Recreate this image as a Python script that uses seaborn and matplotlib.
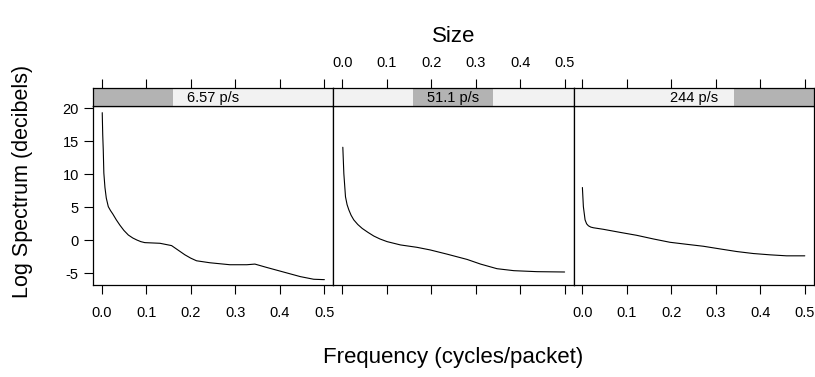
import numpy as np
import pandas as pd
import matplotlib
matplotlib.use("Agg")
import matplotlib.pyplot as plt
from matplotlib.patches import Rectangle
import seaborn as sns

# ---- data ----
panel_labels = ["6.57 p/s", "51.1 p/s", "244 p/s"]

freq1 = [0.0014, 0.0025, 0.0037, 0.005, 0.0075, 0.0105, 0.015, 0.02, 0.025, 0.033, 0.041,
         0.05, 0.06, 0.07, 0.079, 0.088, 0.097,
         0.131, 0.157, 0.172, 0.187, 0.2, 0.213, 0.243, 0.288, 0.326, 0.344, 0.37,
         0.408, 0.446, 0.476, 0.5]
spec1 = [19.34, 16.0, 13.7, 10.2, 8.0, 6.4, 5.1, 4.5, 4.0, 3.1, 2.3,
         1.5, 0.8, 0.35, 0.05, -0.2, -0.35,
         -0.45, -0.8, -1.5, -2.2, -2.7, -3.1, -3.4, -3.7, -3.7, -3.6, -4.1,
         -4.8, -5.5, -5.9, -5.96]

freq2 = [0.0014, 0.0037, 0.0074, 0.011, 0.015, 0.02, 0.026, 0.035, 0.045, 0.058, 0.071,
         0.085, 0.101, 0.131, 0.168,
         0.198, 0.236, 0.281, 0.311, 0.348, 0.386, 0.438, 0.5]
spec2 = [14.1, 10.1, 6.6, 5.4, 4.6, 3.8, 3.1, 2.4, 1.8, 1.2, 0.65,
         0.2, -0.2, -0.7, -1.06,
         -1.46, -2.1, -2.9, -3.6, -4.3, -4.6, -4.75, -4.8]

freq3 = [0.0, 0.0022, 0.006, 0.0095, 0.0135, 0.019, 0.025, 0.047, 0.085, 0.122, 0.16, 0.197,
         0.234, 0.272, 0.309, 0.347, 0.384, 0.422, 0.459, 0.5]
spec3 = [8.0, 5.1, 3.1, 2.5, 2.2, 2.0, 1.9, 1.67, 1.2, 0.76, 0.2, -0.3,
         -0.6, -0.9, -1.3, -1.7, -2.0, -2.2, -2.35, -2.35]

x_ticks = [0.0, 0.1, 0.2, 0.3, 0.4, 0.5]
x_ticklabels = ["0.0", "0.1", "0.2", "0.3", "0.4", "0.5"]
y_ticks = [-5, 0, 5, 10, 15, 20]
y_ticklabels = ["-5", "0", "5", "10", "15", "20"]

df = pd.concat([
    pd.DataFrame({"freq": freq1, "spec": spec1, "panel": panel_labels[0]}),
    pd.DataFrame({"freq": freq2, "spec": spec2, "panel": panel_labels[1]}),
    pd.DataFrame({"freq": freq3, "spec": spec3, "panel": panel_labels[2]}),
])

# ---- style ----
sns.set_style("white")
plt.rcParams["font.family"] = ["Liberation Sans", "DejaVu Sans"]
plt.rcParams["text.color"] = "black"
plt.rcParams["xtick.color"] = "black"
plt.rcParams["ytick.color"] = "black"
plt.rcParams["xtick.labelcolor"] = "black"
plt.rcParams["ytick.labelcolor"] = "black"

W, H = 815, 377
fig = plt.figure(figsize=(W / 100, H / 100), dpi=100)

panel_x = [(92.7, 333.3), (333.3, 573.5), (573.5, 813.7)]
panel_top, panel_bot = 106.0, 285.0
strip_top = 88.3

xlim = (-0.02, 0.52)
ylim = (-6.77, 20.35)
tick_len = 6.5
fs_tick = 10.5
fs_lab = 16

def fx(px):
    return px / W

def fy(py):
    return 1 - py / H

for i, (x0, x1) in enumerate(panel_x):
    ax = fig.add_axes([fx(x0), fy(panel_bot), fx(x1) - fx(x0), fy(panel_top) - fy(panel_bot)])
    sub = df[df["panel"] == panel_labels[i]]
    sns.lineplot(data=sub, x="freq", y="spec", ax=ax, color="black", lw=0.8,
                 estimator=None, sort=False, legend=False)
    ax.set_xlim(*xlim)
    ax.set_ylim(*ylim)
    ax.set_xlabel("")
    ax.set_ylabel("")
    for s in ax.spines.values():
        s.set_color("black")
        s.set_linewidth(0.9)
    ax.set_xticks(x_ticks)
    if i in (0, 2):
        ax.set_xticklabels(x_ticklabels)
    else:
        ax.set_xticklabels([])
    ax.tick_params(axis="x", direction="out", length=tick_len, width=0.8,
                   color="black", labelcolor="black", labelsize=fs_tick, pad=8.5, bottom=True)
    if i == 0:
        ax.set_yticks(y_ticks)
        ax.set_yticklabels(y_ticklabels)
        ax.tick_params(axis="y", direction="out", length=tick_len, width=0.8,
                       color="black", labelcolor="black", labelsize=fs_tick, pad=3.5, left=True)
    else:
        ax.set_yticks([])

    # strip
    sx = fig.add_axes([fx(x0), fy(panel_top), fx(x1) - fx(x0), fy(strip_top) - fy(panel_top)])
    sx.set_xlim(*xlim)
    sx.set_ylim(0, 1)
    sx.add_patch(Rectangle((0, 0), 1, 1, transform=sx.transAxes,
                           facecolor="#F2F2F2", edgecolor="none", zorder=0))
    sx.add_patch(Rectangle((i / 3, 0), 1 / 3, 1, transform=sx.transAxes,
                           facecolor="#B3B3B3", edgecolor="none", zorder=1))
    sx.text(0.5, 0.45, panel_labels[i], transform=sx.transAxes, ha="center",
            va="center", fontsize=fs_tick, color="black", zorder=2)
    for s in sx.spines.values():
        s.set_color("black")
        s.set_linewidth(0.9)
    sx.set_yticks([])
    sx.set_xticks(x_ticks)
    sx.xaxis.set_ticks_position("top")
    sx.xaxis.set_label_position("top")
    if i == 1:
        sx.set_xticklabels(x_ticklabels)
    else:
        sx.set_xticklabels([])
    sx.tick_params(axis="x", direction="out", length=tick_len, width=0.8,
                   color="black", labelcolor="black", labelsize=fs_tick, pad=7,
                   top=True, bottom=False)

mid_x = (panel_x[0][0] + panel_x[2][1]) / 2
fig.text(fx(mid_x), fy(357), "Frequency (cycles/packet)", ha="center", va="center",
         fontsize=fs_lab, color="black")
fig.text(fx(mid_x), fy(36), "Size", ha="center", va="center", fontsize=fs_lab, color="black")
fig.text(fx(23), fy(181), "Log Spectrum (decibels)", ha="center", va="center",
         rotation=90, fontsize=15.5, color="black")

fig.savefig("out.png", dpi=100, facecolor="white")
